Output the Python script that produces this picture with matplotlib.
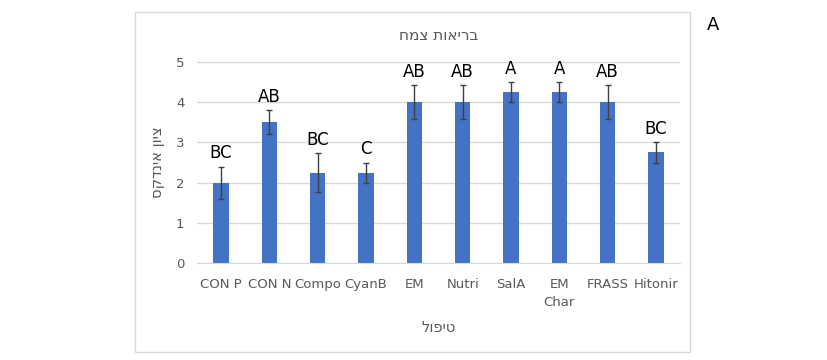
import matplotlib.pyplot as plt
from matplotlib.patches import Rectangle
import numpy as np

plt.rcParams['font.family'] = ['DejaVu Sans']

categories = ['CON P', 'CON N', 'Compo', 'CyanB', 'EM', 'Nutri', 'SalA', 'EM\nChar', 'FRASS', 'Hitonir']
values = [2.0, 3.5, 2.25, 2.25, 4.0, 4.0, 4.25, 4.25, 4.0, 2.75]
errors = [0.4, 0.3, 0.48, 0.25, 0.43, 0.43, 0.25, 0.25, 0.43, 0.25]
letters = ['BC', 'AB', 'BC', 'C', 'AB', 'AB', 'A', 'A', 'AB', 'BC']

title = 'בריאות צמח'
xlabel = 'טיפול'
ylabel = 'ציון אינדקס'


def rtl(s):
    # matplotlib has no bidi support, so flip Hebrew by hand
    return s[::-1]


fig = plt.figure(figsize=(8.28, 3.6), dpi=100)
fig.patches.append(Rectangle((135 / 828, 1 - 352 / 360), 555 / 828, 340 / 360,
                             transform=fig.transFigure, fill=False,
                             edgecolor='#d9d9d9', linewidth=1))

ax = fig.add_axes([197 / 828, 1 - 263 / 360, 483 / 828, 201 / 360])
x = np.arange(len(categories))
ax.bar(x, values, width=0.32, color='#4472c4', zorder=2)
ax.errorbar(x, values, yerr=errors, fmt='none', ecolor='#404040',
            elinewidth=1, capsize=2.5, capthick=1, zorder=3)
for xi, v, e, t in zip(x, values, errors, letters):
    ax.text(xi, v + e + 0.1, t, ha='center', va='bottom', fontsize=12, color='black')

ax.set_xlim(-0.5, len(categories) - 0.5)
ax.set_ylim(0, 5)
ax.set_yticks(range(6))
ax.set_xticks(x)
ax.set_xticklabels(categories, fontsize=9.5, color='#595959', linespacing=1.5)
ax.tick_params(axis='y', labelsize=9.5, labelcolor='#595959', length=0, pad=9)
ax.tick_params(axis='x', length=0, pad=11)
ax.yaxis.grid(True, color='#d9d9d9', linewidth=1, zorder=0)
for s in ax.spines.values():
    s.set_visible(False)
ax.spines['bottom'].set_visible(True)
ax.spines['bottom'].set_color('#d9d9d9')

ax.set_title(rtl(title), fontsize=11, color='#595959', pad=16)
ax.set_xlabel(rtl(xlabel), fontsize=10.5, color='#595959', labelpad=8)
ax.set_ylabel(rtl(ylabel), fontsize=10.5, color='#595959', labelpad=8)

fig.text(713 / 828, 1 - 25 / 360, 'A', fontsize=13, ha='center', va='center')

fig.savefig('out.png', dpi=100, facecolor='white')
